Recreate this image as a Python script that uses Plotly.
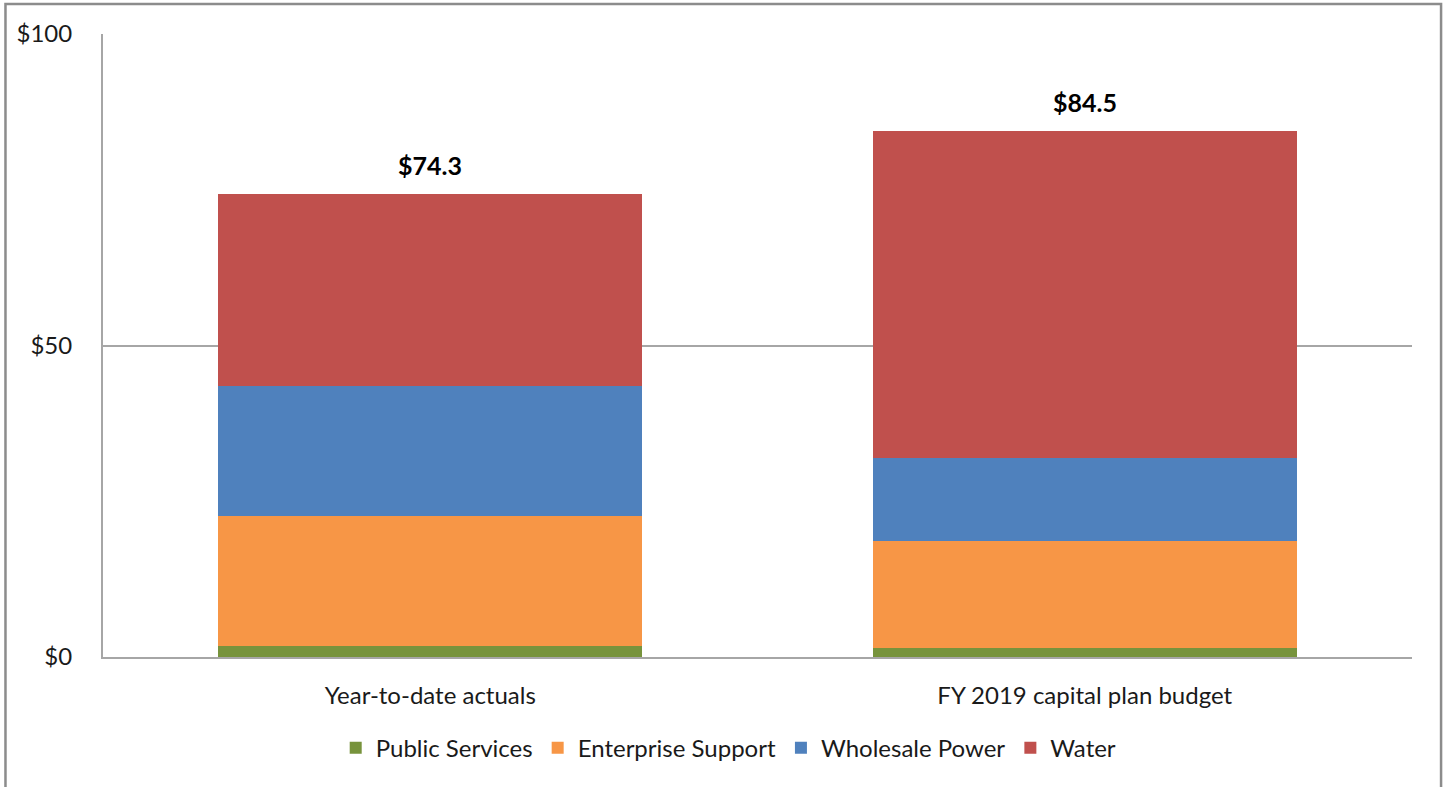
import plotly.graph_objects as go

categories = ["Year-to-date actuals", "FY 2019 capital plan budget"]
public_services = [1.7, 1.5]
enterprise_support = [20.9, 17.1]
wholesale_power = [20.9, 13.4]
water = [30.8, 52.5]
totals = [74.3, 84.5]
total_labels = ["$74.3", "$84.5"]
y_tickvals = [0, 50, 100]
y_ticktext = ["$0", "$50", "$100"]

series = [
    ("Public Services", public_services, "#77933C"),
    ("Enterprise Support", enterprise_support, "#F79646"),
    ("Wholesale Power", wholesale_power, "#4F81BD"),
    ("Water", water, "#C0504D"),
]

FONT = "Lato, 'Open Sans', sans-serif"
TXT = "#1A1A1A"

fig = go.Figure()
for name, vals, color in series:
    fig.add_trace(go.Bar(
        x=categories, y=vals, name=name,
        marker=dict(color=color, line=dict(width=0)),
    ))

for c, t, lab in zip(categories, totals, total_labels):
    fig.add_annotation(x=c, y=t, text="<b>" + lab + "</b>", showarrow=False,
                       yanchor="bottom", yshift=12,
                       font=dict(family=FONT, size=25, color="#000000"))

# outer chart border
fig.add_shape(type="rect", xref="paper", yref="paper",
              x0=-0.0745, x1=1.0222, y0=-0.5, y1=1.0482,
              line=dict(color="#8C8C8C", width=2.5), layer="below")

fig.update_layout(
    barmode="stack",
    bargap=0.352,
    width=1445, height=787,
    margin=dict(l=103, r=33, t=34, b=130),
    plot_bgcolor="white", paper_bgcolor="white",
    font=dict(family=FONT, size=23, color=TXT),
    showlegend=True,
    legend=dict(orientation="h", x=0.478, xanchor="center", y=-0.11, yanchor="top",
                font=dict(family=FONT, size=24, color=TXT),
                traceorder="normal", itemwidth=30),
    xaxis=dict(showline=True, linecolor="#A6A6A6", linewidth=2,
               ticks="", tickfont=dict(size=24, color=TXT), ticklabelstandoff=16),
    yaxis=dict(range=[0, 100], tickvals=y_tickvals, ticktext=y_ticktext,
               showgrid=True, gridcolor="#A6A6A6", gridwidth=1.5,
               showline=True, linecolor="#A6A6A6", linewidth=2,
               ticks="", tickfont=dict(size=24, color=TXT), ticklabelstandoff=24,
               zeroline=False),
)

fig.write_html("out.html")
